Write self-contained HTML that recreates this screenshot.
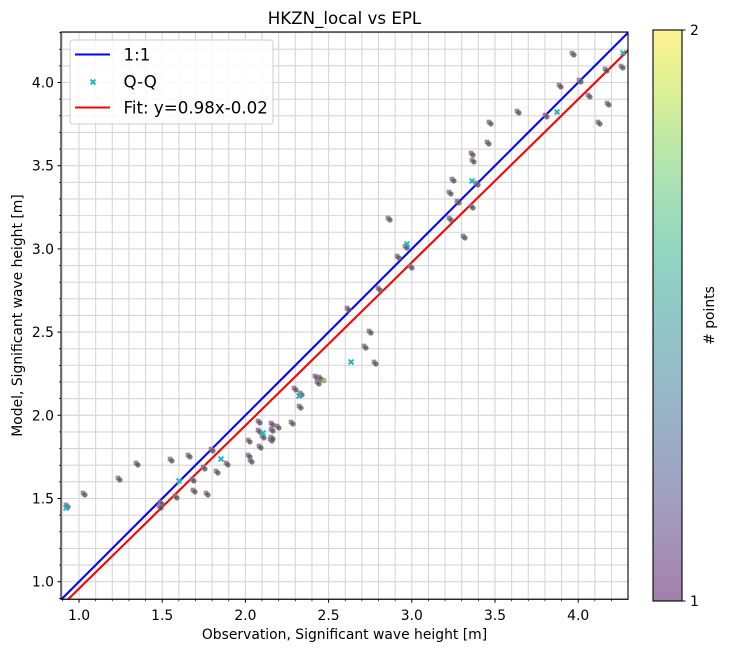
<!DOCTYPE html>
<html><head><meta charset="utf-8"><style>
html,body{margin:0;padding:0;background:#fff;}
svg{display:block;font-family:"DejaVu Sans","Liberation Sans",sans-serif;}
</style></head><body>
<svg width="729" height="652" viewBox="0 0 729 652" xmlns="http://www.w3.org/2000/svg">
<defs>
<linearGradient id="cb" x1="0" y1="1" x2="0" y2="0">
<stop offset="0" stop-color="#a280aa"/>
<stop offset="0.1" stop-color="#a492ba"/>
<stop offset="0.2" stop-color="#a0a2c3"/>
<stop offset="0.3" stop-color="#9aafc6"/>
<stop offset="0.4" stop-color="#95bcc7"/>
<stop offset="0.5" stop-color="#90c8c6"/>
<stop offset="0.6" stop-color="#91d4c2"/>
<stop offset="0.7" stop-color="#a2dfb8"/>
<stop offset="0.8" stop-color="#bde8a8"/>
<stop offset="0.9" stop-color="#def093"/>
<stop offset="1" stop-color="#fef392"/>
</linearGradient>
<clipPath id="ax"><rect x="61" y="32" width="567" height="567.3"/></clipPath>
<g id="p"><rect x="-3.3" y="-3.3" width="4.6" height="4.6" fill="#8f7199" fill-opacity="0.85"/><circle cx="0.9" cy="0.9" r="2.4" fill="#4a4a4a" fill-opacity="0.72" stroke="#7a7a7a" stroke-width="0.6"/></g>
<g id="q"><path d="M-2.4 -2.4L2.4 2.4M2.4 -2.4L-2.4 2.4" stroke="#1cb8c0" stroke-width="1.9" fill="none"/></g>
</defs>

<g stroke="#d6d6d6" stroke-width="1.1" fill="none" clip-path="url(#ax)">
<path d="M62.36 32V600M79 32V600M95.64 32V600M112.28 32V600M128.92 32V600M145.56 32V600M162.2 32V600M178.84 32V600M195.48 32V600M212.12 32V600M228.76 32V600M245.4 32V600M262.04 32V600M278.68 32V600M295.32 32V600M311.96 32V600M328.6 32V600M345.24 32V600M361.88 32V600M378.52 32V600M395.16 32V600M411.8 32V600M428.44 32V600M445.08 32V600M461.72 32V600M478.36 32V600M495 32V600M511.64 32V600M528.28 32V600M544.92 32V600M561.56 32V600M578.2 32V600M594.84 32V600M611.48 32V600"/>
<path d="M61 598.34H628M61 581.7H628M61 565.06H628M61 548.42H628M61 531.78H628M61 515.14H628M61 498.5H628M61 481.86H628M61 465.22H628M61 448.58H628M61 431.94H628M61 415.3H628M61 398.66H628M61 382.02H628M61 365.38H628M61 348.74H628M61 332.1H628M61 315.46H628M61 298.82H628M61 282.18H628M61 265.54H628M61 248.9H628M61 232.26H628M61 215.62H628M61 198.98H628M61 182.34H628M61 165.7H628M61 149.06H628M61 132.42H628M61 115.78H628M61 99.14H628M61 82.5H628M61 65.86H628M61 49.22H628M61 32.58H628"/>
</g>

<g clip-path="url(#ax)">
<line x1="61" y1="599.7" x2="628" y2="32.7" stroke="#0000ff" stroke-width="2.1"/>
<line x1="68.1" y1="599.3" x2="628" y2="50.4" stroke="#ff0000" stroke-width="2.1"/>
</g>

<g clip-path="url(#ax)">
<use href="#p" x="67" y="506"/>
<use href="#p" x="84" y="494"/>
<use href="#p" x="119" y="479"/>
<use href="#p" x="137" y="464"/>
<use href="#p" x="171" y="460"/>
<use href="#p" x="189" y="456"/>
<use href="#p" x="161" y="503"/>
<use href="#p" x="160" y="507"/>
<use href="#p" x="176" y="497"/>
<use href="#p" x="193" y="480"/>
<use href="#p" x="194" y="491"/>
<use href="#p" x="204" y="468"/>
<use href="#p" x="207" y="494"/>
<use href="#p" x="212" y="450"/>
<use href="#p" x="217" y="472"/>
<use href="#p" x="227" y="464"/>
<use href="#p" x="249" y="441"/>
<use href="#p" x="249" y="456"/>
<use href="#p" x="251" y="461"/>
<use href="#p" x="260" y="447"/>
<use href="#p" x="271" y="440"/>
<use href="#p" x="259" y="422"/>
<use href="#p" x="272" y="424"/>
<use href="#p" x="278" y="427"/>
<use href="#p" x="259" y="431"/>
<use href="#p" x="263" y="437"/>
<use href="#p" x="272" y="430"/>
<use href="#p" x="272" y="438"/>
<use href="#p" x="292" y="423"/>
<use href="#p" x="300" y="407"/>
<use href="#p" x="295" y="389"/>
<use href="#p" x="301" y="394"/>
<use href="#p" x="316" y="377"/>
<use href="#p" x="320" y="378"/>
<use href="#p" x="318" y="383"/>
<use href="#p" x="348" y="309"/>
<use href="#p" x="370" y="332"/>
<use href="#p" x="365" y="347"/>
<use href="#p" x="375" y="363"/>
<use href="#p" x="379" y="289"/>
<use href="#p" x="411" y="267"/>
<use href="#p" x="398" y="257"/>
<use href="#p" x="406" y="247"/>
<use href="#p" x="389" y="219"/>
<use href="#p" x="450" y="219"/>
<use href="#p" x="464" y="237"/>
<use href="#p" x="453" y="180"/>
<use href="#p" x="477" y="184"/>
<use href="#p" x="450" y="193"/>
<use href="#p" x="458" y="202"/>
<use href="#p" x="472" y="207"/>
<use href="#p" x="472" y="154"/>
<use href="#p" x="473" y="161"/>
<use href="#p" x="488" y="143"/>
<use href="#p" x="490" y="123"/>
<use href="#p" x="518" y="112"/>
<use href="#p" x="546" y="116"/>
<use href="#p" x="560" y="86"/>
<use href="#p" x="580" y="81"/>
<use href="#p" x="589" y="96"/>
<use href="#p" x="599" y="123"/>
<use href="#p" x="608" y="104"/>
<use href="#p" x="606" y="70"/>
<use href="#p" x="573" y="54"/>
<use href="#p" x="622" y="67"/>
<circle cx="323.7" cy="380.5" r="2.5" fill="#a89c4c" fill-opacity="0.75" stroke="#8a8a6a" stroke-width="0.6"/>
<use href="#q" x="66" y="508"/>
<use href="#q" x="179" y="481"/>
<use href="#q" x="221" y="459"/>
<use href="#q" x="263" y="433"/>
<use href="#q" x="299" y="396"/>
<use href="#q" x="351" y="362"/>
<use href="#q" x="407" y="244"/>
<use href="#q" x="472" y="181"/>
<use href="#q" x="557" y="112"/>
<use href="#q" x="623" y="53"/>
</g>

<rect x="61" y="32" width="567" height="567.3" fill="none" stroke="#000" stroke-width="1.1"/>

<g stroke="#000" stroke-width="1">
<path d="M79 599.3v3.5M162.2 599.3v3.5M245.4 599.3v3.5M328.6 599.3v3.5M411.8 599.3v3.5M495 599.3v3.5M578.2 599.3v3.5"/>
<path stroke-width="0.7" d="M62.36 599.3v2M95.64 599.3v2M112.28 599.3v2M128.92 599.3v2M145.56 599.3v2M178.84 599.3v2M195.48 599.3v2M212.12 599.3v2M228.76 599.3v2M262.04 599.3v2M278.68 599.3v2M295.32 599.3v2M311.96 599.3v2M345.24 599.3v2M361.88 599.3v2M378.52 599.3v2M395.16 599.3v2M428.44 599.3v2M445.08 599.3v2M461.72 599.3v2M478.36 599.3v2M511.64 599.3v2M528.28 599.3v2M544.92 599.3v2M561.56 599.3v2M594.84 599.3v2M611.48 599.3v2"/>
<path d="M61 581.7h-3.5M61 498.5h-3.5M61 415.3h-3.5M61 332.1h-3.5M61 248.9h-3.5M61 165.7h-3.5M61 82.5h-3.5"/>
<path stroke-width="0.7" d="M61 598.34h-2M61 565.06h-2M61 548.42h-2M61 531.78h-2M61 515.14h-2M61 481.86h-2M61 465.22h-2M61 448.58h-2M61 431.94h-2M61 398.66h-2M61 382.02h-2M61 365.38h-2M61 348.74h-2M61 315.46h-2M61 298.82h-2M61 282.18h-2M61 265.54h-2M61 232.26h-2M61 215.62h-2M61 198.98h-2M61 182.34h-2M61 149.06h-2M61 132.42h-2M61 115.78h-2M61 99.14h-2M61 65.86h-2M61 49.22h-2M61 32.58h-2"/>
</g>

<g font-size="13.9" fill="#000" text-anchor="middle">
<text x="79" y="620">1.0</text>
<text x="162.2" y="620">1.5</text>
<text x="245.4" y="620">2.0</text>
<text x="328.6" y="620">2.5</text>
<text x="411.8" y="620">3.0</text>
<text x="495" y="620">3.5</text>
<text x="578.2" y="620">4.0</text>
</g>
<g font-size="13.9" fill="#000" text-anchor="end">
<text x="54" y="586.7">1.0</text>
<text x="54" y="503.5">1.5</text>
<text x="54" y="420.3">2.0</text>
<text x="54" y="337.1">2.5</text>
<text x="54" y="253.9">3.0</text>
<text x="54" y="170.7">3.5</text>
<text x="54" y="87.5">4.0</text>
</g>

<text x="344.5" y="639" font-size="13.9" text-anchor="middle">Observation, Significant wave height [m]</text>
<text transform="translate(22,315.5) rotate(-90)" font-size="13.9" text-anchor="middle">Model, Significant wave height [m]</text>
<text x="344.5" y="24" font-size="16.67" text-anchor="middle">HKZN_local vs EPL</text>

<rect x="70" y="40" width="203" height="84" rx="3" ry="3" fill="#fff" fill-opacity="0.85" stroke="#cccccc" stroke-width="1"/>
<line x1="75" y1="54.5" x2="110" y2="54.5" stroke="#0000ff" stroke-width="2.1"/>
<use href="#q" x="93" y="82"/>
<line x1="75" y1="107.5" x2="110" y2="107.5" stroke="#ff0000" stroke-width="2.1"/>
<g font-size="16.67" fill="#000">
<text x="123.5" y="60.5">1:1</text>
<text x="123.5" y="87.5">Q-Q</text>
<text x="123.5" y="113.5">Fit: y=0.98x-0.02</text>
</g>

<rect x="653" y="30" width="29" height="571" fill="url(#cb)"/>
<rect x="653" y="30" width="29" height="571" fill="none" stroke="#000" stroke-width="1.1"/>
<g stroke="#000" stroke-width="1"><path d="M682 30h3.5M682 601h3.5"/></g>
<g font-size="13.9" fill="#000">
<text x="690" y="35">2</text>
<text x="690" y="606">1</text>
</g>
<text transform="translate(714,315.5) rotate(-90)" font-size="13.9" text-anchor="middle"># points</text>
</svg>
</body></html>
